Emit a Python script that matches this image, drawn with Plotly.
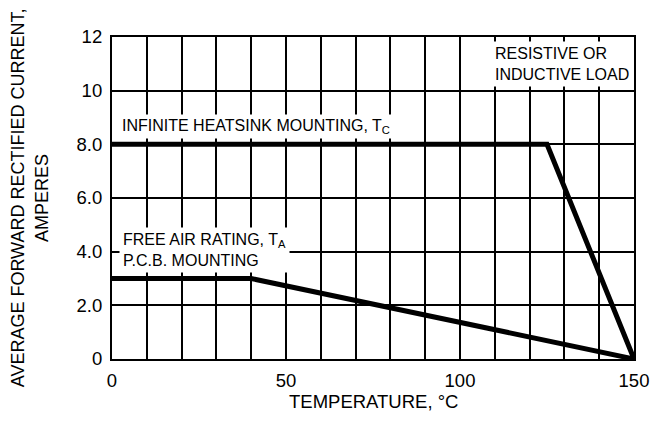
import plotly.graph_objects as go

# Data
heatsink_temp = [0, 125, 150]
heatsink_current = [8.0, 8.0, 0]
freeair_temp = [0, 40, 150]
freeair_current = [3.0, 3.0, 0]

x_tickvals = list(range(0, 151, 10))
x_ticktext = [str(v) if v % 50 == 0 else "" for v in x_tickvals]
y_tickvals = [0, 2, 4, 6, 8, 10, 12]
y_ticktext = ["0", "2.0", "4.0", "6.0", "8.0", "10", "12"]

FONT = "Liberation Sans, Arial, sans-serif"

fig = go.Figure()
fig.add_trace(go.Scatter(x=heatsink_temp, y=heatsink_current, mode="lines",
                         line=dict(color="black", width=5), showlegend=False))
fig.add_trace(go.Scatter(x=freeair_temp, y=freeair_current, mode="lines",
                         line=dict(color="black", width=5), showlegend=False))

fig.update_layout(
    width=653, height=414,
    margin=dict(l=104, r=19, t=29, b=63),
    paper_bgcolor="white", plot_bgcolor="white",
    font=dict(family=FONT, color="black", size=18.5),
    xaxis=dict(range=[0, 150], tickvals=x_tickvals, ticktext=x_ticktext,
               showgrid=True, gridcolor="black", gridwidth=1.6,
               showline=True, linecolor="black", linewidth=2.2, mirror=True,
               zeroline=False, ticks="", ticklabelstandoff=4,
               tickfont=dict(size=18.5)),
    yaxis=dict(range=[0, 12], tickvals=y_tickvals, ticktext=y_ticktext,
               showgrid=True, gridcolor="black", gridwidth=1.6,
               showline=True, linecolor="black", linewidth=2.2, mirror=True,
               zeroline=False, ticks="", ticklabelstandoff=4,
               tickfont=dict(size=18.5)),
)

ann_font = dict(family=FONT, size=16, color="black")
fig.add_annotation(x=2.0, y=8.65, xref="x", yref="y", xanchor="left", yanchor="middle",
                   text="INFINITE HEATSINK MOUNTING, T<sub>C</sub>", showarrow=False,
                   bgcolor="white", borderpad=2, font=ann_font, align="left")
fig.add_annotation(x=108.8, y=11.0, xref="x", yref="y", xanchor="left", yanchor="middle",
                   text="RESISTIVE OR<br>INDUCTIVE LOAD", showarrow=False,
                   bgcolor="white", borderpad=3, font=ann_font, align="left")
fig.add_annotation(x=2.0, y=4.08, xref="x", yref="y", xanchor="left", yanchor="middle",
                   text="FREE AIR RATING, T<sub>A</sub><br>P.C.B. MOUNTING", showarrow=False,
                   bgcolor="white", borderpad=3, font=ann_font, align="left")

fig.add_annotation(x=-0.1585, y=0.5, xref="paper", yref="paper", xanchor="center", yanchor="middle",
                   text="AVERAGE FORWARD RECTIFIED CURRENT,<br>AMPERES", textangle=-90,
                   showarrow=False, font=dict(family=FONT, size=18, color="black"))
fig.add_annotation(x=0.5, y=-0.132, xref="paper", yref="paper", xanchor="center", yanchor="middle",
                   text="TEMPERATURE, °C", showarrow=False,
                   font=dict(family=FONT, size=18.5, color="black"))

fig.write_html("out.html")
